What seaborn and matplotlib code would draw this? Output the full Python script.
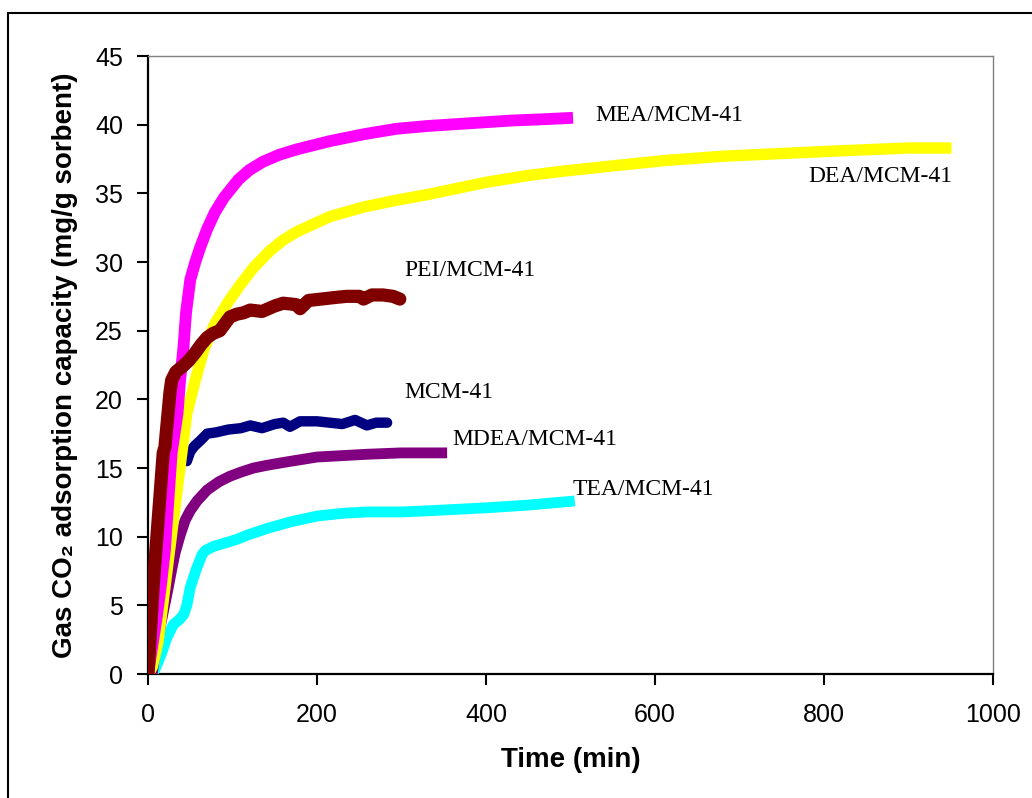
import matplotlib
matplotlib.use("Agg")
import matplotlib.pyplot as plt
from matplotlib.patches import Rectangle
import seaborn as sns
import pandas as pd

# ---------------- data ----------------
mea_t = [0, 10, 15, 20, 28, 35, 38, 42, 45, 50, 56, 62, 70, 79, 90, 107, 120, 136, 155, 176, 215, 255, 294, 330, 380, 430, 470, 503]
mea_v = [0, 4, 6.3, 9, 16.1, 19.0, 21.4, 23.8, 26.3, 28.7, 30.0, 31.1, 32.4, 33.6, 34.7, 36.0, 36.7, 37.3, 37.8, 38.2, 38.8, 39.3, 39.7, 39.9, 40.1, 40.3, 40.4, 40.5]

dea_t = [0, 5, 12, 20, 30, 40, 46, 56, 67, 80, 95, 110, 125, 144, 160, 176, 215, 255, 294, 330, 400, 450, 489, 550, 614, 680, 750, 820, 900, 951]
dea_v = [0, 0.5, 2.4, 6.3, 11.2, 16.1, 19.0, 21.4, 23.8, 25.6, 27.1, 28.4, 29.6, 30.8, 31.6, 32.2, 33.3, 34.0, 34.5, 34.9, 35.8, 36.3, 36.6, 37.0, 37.4, 37.7, 37.9, 38.1, 38.3, 38.3]

pei_t = [0, 6, 12, 18, 20, 23, 26, 28, 33, 41, 48, 56, 63, 70, 77, 85, 91, 97, 105, 113, 121, 135, 150, 160, 175, 180, 190, 205, 219, 235, 250, 255, 265, 278, 290, 298]
pei_v = [0, 6.3, 11.2, 16.1, 16.5, 18.5, 20.5, 21.4, 22.0, 22.4, 22.8, 23.4, 24.0, 24.5, 24.8, 25.0, 25.5, 26.0, 26.2, 26.3, 26.5, 26.4, 26.8, 27.0, 26.9, 26.6, 27.2, 27.3, 27.4, 27.5, 27.5, 27.3, 27.6, 27.6, 27.5, 27.3]

mcm_t = [46, 50, 55, 62, 70, 81, 95, 110, 121, 135, 150, 160, 168, 180, 200, 215, 230, 245, 259, 270, 283]
mcm_v = [15.5, 16.2, 16.6, 17.0, 17.5, 17.6, 17.8, 17.9, 18.1, 17.9, 18.2, 18.3, 18.0, 18.4, 18.4, 18.3, 18.2, 18.5, 18.1, 18.3, 18.3]

mdea_t = [5, 8, 12, 16, 20, 24, 28, 32, 38, 44, 50, 58, 70, 84, 97, 110, 125, 141, 160, 180, 200, 230, 259, 300, 354]
mdea_v = [0, 1.5, 2.7, 3.9, 5.1, 6.3, 7.6, 8.8, 10.1, 11.2, 11.9, 12.6, 13.4, 14.0, 14.4, 14.7, 15.0, 15.2, 15.4, 15.6, 15.8, 15.9, 16.0, 16.1, 16.1]

tea_t = [5, 8, 12, 16, 22, 30, 36, 42, 46, 50, 57, 64, 68, 78, 89, 105, 117, 141, 170, 200, 230, 259, 300, 337, 400, 450, 505]
tea_v = [0, 0.3, 0.9, 1.5, 2.6, 3.6, 3.9, 4.3, 5.0, 6.3, 7.6, 8.7, 9.0, 9.3, 9.5, 9.8, 10.1, 10.6, 11.1, 11.5, 11.7, 11.8, 11.8, 11.9, 12.1, 12.3, 12.6]

series_names = ["TEA/MCM-41", "MDEA/MCM-41", "MCM-41", "DEA/MCM-41", "MEA/MCM-41", "PEI/MCM-41"]
series_data = [(tea_t, tea_v), (mdea_t, mdea_v), (mcm_t, mcm_v), (dea_t, dea_v), (mea_t, mea_v), (pei_t, pei_v)]
series_colors = ["#00FFFF", "#800080", "#000080", "#FFFF00", "#FF00FF", "#800000"]
series_widths = [7.8, 7.8, 7.5, 8.2, 8.5, 9.5]
series_caps = ["butt", "butt", "round", "butt", "butt", "round"]

label_texts = ["MEA/MCM-41", "DEA/MCM-41", "PEI/MCM-41", "MCM-41", "MDEA/MCM-41", "TEA/MCM-41"]
label_x = [530, 782, 303, 303, 360, 502]
label_y = [40.7, 36.2, 29.4, 20.5, 17.1, 13.4]

x_ticks = [0, 200, 400, 600, 800, 1000]
y_ticks = [0, 5, 10, 15, 20, 25, 30, 35, 40, 45]

# ---------------- figure ----------------
sns.set_style("white")
plt.rcParams["font.family"] = ["Liberation Sans", "DejaVu Sans"]
plt.rcParams["text.color"] = "black"
plt.rcParams["axes.labelcolor"] = "black"
plt.rcParams["xtick.color"] = "black"
plt.rcParams["ytick.color"] = "black"

fig = plt.figure(figsize=(10.32, 7.98), dpi=100)
ax = fig.add_axes([148 / 1032, 1 - 674 / 798, (993 - 148) / 1032, (674 - 56) / 798])

for z, ((t, v), name, col, lw, cap) in enumerate(zip(series_data, series_names, series_colors,
                                                     series_widths, series_caps)):
    df = pd.DataFrame({"t": t, "v": v})
    sns.lineplot(data=df, x="t", y="v", color=col, linewidth=lw, ax=ax,
                 estimator=None, sort=False, zorder=3 + z,
                 solid_capstyle=cap, solid_joinstyle="round")

for txt, x, y in zip(label_texts, label_x, label_y):
    ax.text(x, y, txt, fontsize=17, family=["Liberation Serif", "DejaVu Serif"],
            ha="left", va="center", color="black")

ax.set_xlim(0, 1000)
ax.set_ylim(0, 45)
ax.set_xticks(x_ticks)
ax.set_yticks(y_ticks)
ax.set_xticklabels([str(v) for v in x_ticks])
ax.set_yticklabels([str(v) for v in y_ticks])
ax.tick_params(axis="both", which="major", labelsize=18, direction="out",
               length=8, width=1.5, color="black", labelcolor="black",
               bottom=True, left=True)
ax.tick_params(axis="x", pad=13)
ax.tick_params(axis="y", pad=10)

ax.set_xlabel("Time (min)", fontsize=20, fontweight="bold", labelpad=14, color="black")
ax.set_ylabel("Gas CO\u2082 adsorption capacity (mg/g sorbent)", fontsize=20,
              fontweight="bold", labelpad=12, color="black")

for side in ["left", "bottom"]:
    ax.spines[side].set_color("black")
    ax.spines[side].set_linewidth(1.6)
for side in ["top", "right"]:
    ax.spines[side].set_visible(True)
    ax.spines[side].set_color("#808080")
    ax.spines[side].set_linewidth(1.0)

# outer frame around the chart (partly cropped at right and bottom)
fig.patches.append(Rectangle((8 / 1032, -0.05), 1.2, 0.9837 + 0.05,
                             transform=fig.transFigure, fill=False,
                             edgecolor="black", linewidth=1.5))

fig.savefig("out.png", dpi=100)
